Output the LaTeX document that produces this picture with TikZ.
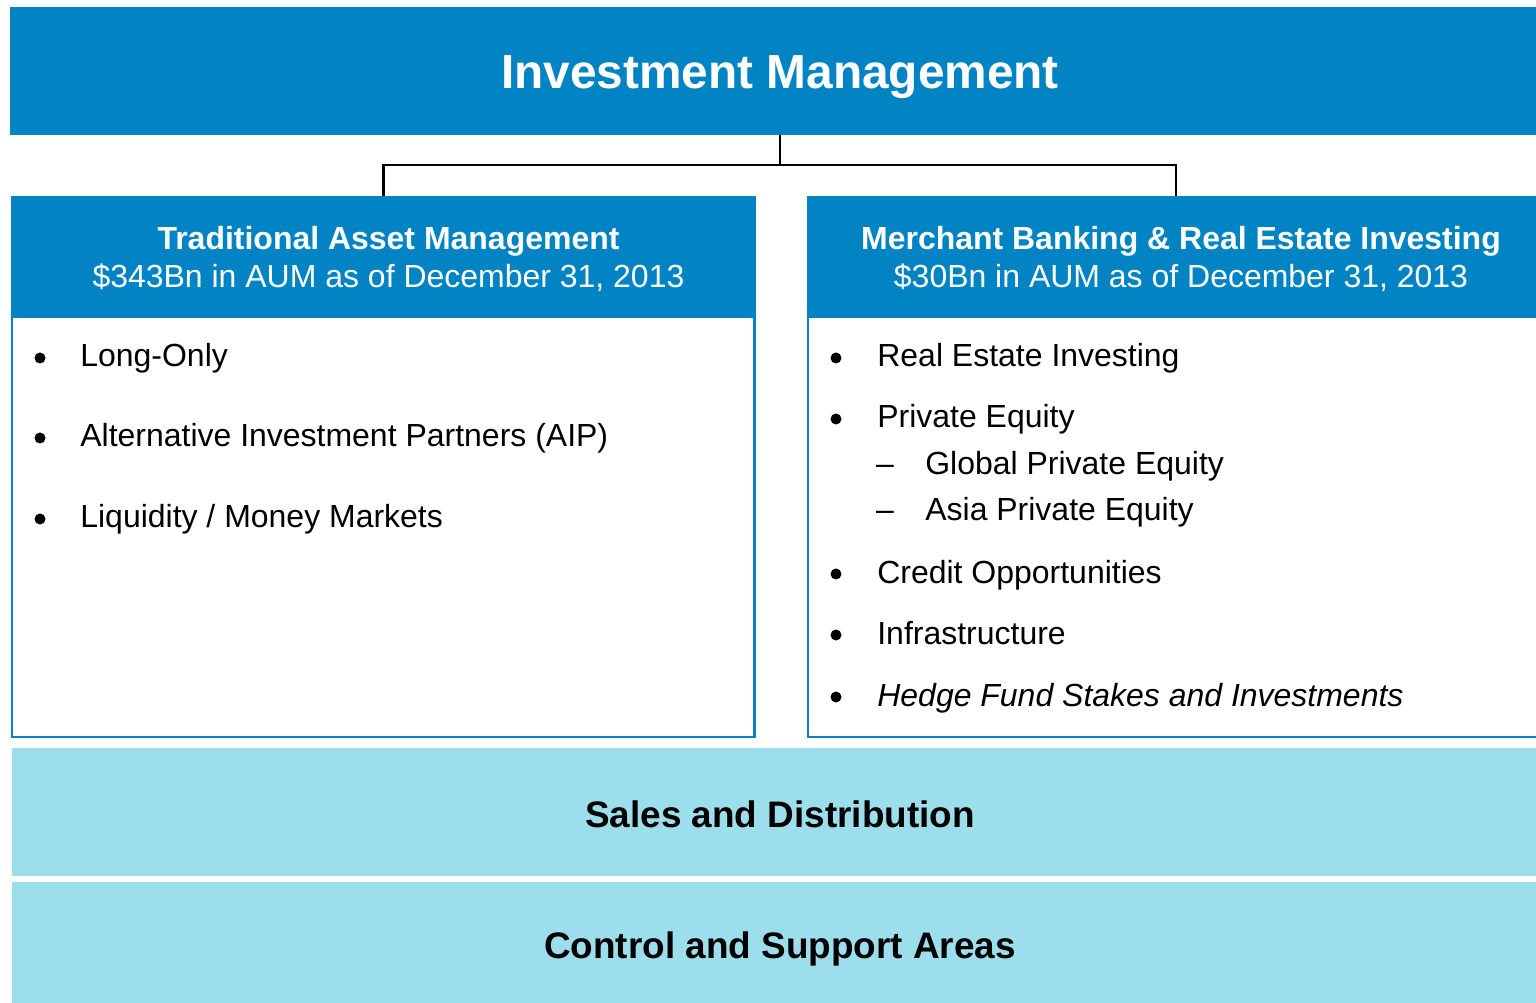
\documentclass[tikz,border=0pt]{standalone}
\usepackage{fontspec}
\setmainfont{Liberation Sans}
\usetikzlibrary{positioning}
\definecolor{imblue}{RGB}{2,132,196}
\definecolor{bandblue}{RGB}{157,222,236}
\tikzset{
  banner/.style={fill=imblue, text=white, inner sep=0pt, outer sep=0pt,
    font=\bfseries\fontsize{27.2}{32}\selectfont},
  header/.style={fill=imblue, text=white, inner sep=0pt, outer sep=0pt, align=center,
    minimum height={121*0.02cm}, font=\fontsize{18.2}{21.6}\selectfont},
  panel/.style={draw=imblue, line width=1.2pt, inner sep=0pt, outer sep=0pt},
  band/.style={fill=bandblue, inner sep=0pt, outer sep=0pt,
    minimum height={128*0.02cm}, font=\bfseries\fontsize{21}{25}\selectfont},
  item/.style={anchor=base west, inner sep=0pt, font=\fontsize{18.2}{21.6}\selectfont},
  mark dot/.style={circle, fill=black, inner sep=0pt, minimum size={11*0.02cm}},
  mark dash/.style={anchor=base, inner sep=0pt, font=\fontsize{18.2}{21.6}\selectfont},
  link/.style={line width=1.4pt}
}
\begin{document}
\begin{tikzpicture}[x=0.02cm, y=-0.02cm]
            \useasboundingbox (0,0) rectangle (1536,1003);
            \clip (0,0) rectangle (1536,1003);

            \node (im) [banner, minimum width={1540*0.02cm}, minimum height={128*0.02cm}] at (780,71) {};
            \node (imt) [banner] at (780,77) {Investment Management};

            \node (tamb) [panel, minimum width={742.5*0.02cm}, minimum height={420*0.02cm}] at (383.25,527) {};
            \node (mbrb) [panel, minimum width={752*0.02cm}, minimum height={420*0.02cm}] at (1184,527) {};

            \node (tam) [header, minimum width={745*0.02cm}] at (383.5,256.5) {};
            \node (mbr) [header, minimum width={738*0.02cm}] at (1176,256.5) {};
            \node (tamt) [header, minimum height=0pt] at (388.5,258.5)
              {\textbf{Traditional Asset Management}\\\$343Bn in AUM as of December 31, 2013};
            \node (mbrt) [header, minimum height=0pt] at (1181,258.5)
              {\textbf{Merchant Banking \& Real Estate Investing}\\\$30Bn in AUM as of December 31, 2013};

            \node (sd) [band, minimum width={1536*0.02cm}] at (780,812) {};
            \node (csa) [band, minimum width={1536*0.02cm}] at (780,946) {};
            \node (sdt) [band, minimum height=0pt, fill=none] at (780,814) {Sales and Distribution};
            \node (csat) [band, minimum height=0pt, fill=none] at (780,949) {Control and Support Areas};

            \draw [link] (im.south) -- ++(0,30) coordinate (j);
            \draw [link] (tam.north) |- (j) -| (mbr.north);

            \node (d1) [mark dot] at (40,358) {};
            \node (d2) [mark dot] at (40,438) {};
            \node (d3) [mark dot] at (40,519) {};
            \node (t1) [item] at (80,367) {Long-Only};
            \node (t2) [item] at (80,447) {Alternative Investment Partners (AIP)};
            \node (t3) [item] at (80,528) {Liquidity / Money Markets};

            \node (d4) [mark dot] at (836,358) {};
            \node (d5) [mark dot] at (836,419) {};
            \node (d6) [mark dash] at (885,475) {–};
            \node (d7) [mark dash] at (885,521) {–};
            \node (d8) [mark dot] at (836,574) {};
            \node (d9) [mark dot] at (836,635) {};
            \node (d10) [mark dot] at (836,697) {};
            \node (t4) [item] at (877,367) {Real Estate Investing};
            \node (t5) [item] at (877,428) {Private Equity};
            \node (t6) [item] at (925,475) {Global Private Equity};
            \node (t7) [item] at (925,521) {Asia Private Equity};
            \node (t8) [item] at (877,583) {Credit Opportunities};
            \node (t9) [item] at (877,644) {Infrastructure};
            \node (t10) [item] at (877,706) {\itshape Hedge Fund Stakes and Investments};
\end{tikzpicture}
\end{document}
